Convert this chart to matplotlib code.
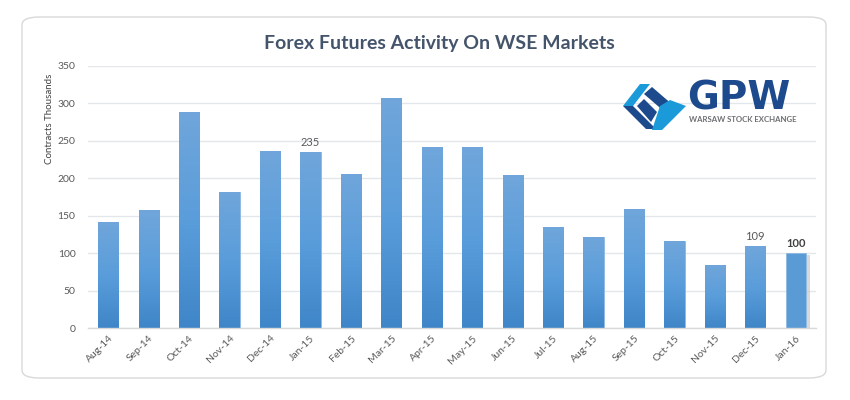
import matplotlib
matplotlib.use("Agg")
import matplotlib.pyplot as plt
import numpy as np
from matplotlib.patches import FancyBboxPatch, Polygon
from matplotlib.colors import LinearSegmentedColormap

months = ["Aug-14", "Sep-14", "Oct-14", "Nov-14", "Dec-14", "Jan-15", "Feb-15", "Mar-15",
          "Apr-15", "May-15", "Jun-15", "Jul-15", "Aug-15", "Sep-15", "Oct-15", "Nov-15",
          "Dec-15", "Jan-16"]
contracts = [142, 157, 288, 182, 236, 235, 206, 307, 242, 242, 204, 135, 122, 159, 116, 84, 109, 100]
labelled = {"Jan-15": "normal", "Dec-15": "normal", "Jan-16": "bold"}
yticks = [0, 50, 100, 150, 200, 250, 300, 350]

plt.rcParams['font.family'] = ['Lato', 'DejaVu Sans']

fig = plt.figure(figsize=(8.5, 4), dpi=100)
fig.patch.set_facecolor("white")

# rounded frame
frame = FancyBboxPatch((22 / 850, 1 - 378 / 400), (826 - 22) / 850, (378 - 17) / 400,
                       boxstyle="round,pad=0,rounding_size=0.02", transform=fig.transFigure,
                       facecolor="white", edgecolor="#D9D9D9", linewidth=1.0, zorder=-5)
fig.patches.append(frame)

ax = fig.add_axes([88 / 850, 1 - 328 / 400, (816 - 88) / 850, (328 - 66) / 400])
ax.set_facecolor("none")
ax.set_zorder(2)

x = np.arange(len(months))
bars = ax.bar(x, contracts, width=0.5, color="#5B9BD5", edgecolor="#8DB8E3", linewidth=0.6, zorder=2)

# vertical gradient inside each bar
grad = np.linspace(0, 1, 256).reshape(-1, 1)
cmap = LinearSegmentedColormap.from_list("barg", ["#3F86C8", "#5A9DDB", "#70A6DA"])
for b, m in zip(bars, months):
    if m == "Jan-16":
        b.set_facecolor("#5B9BD5")
        ax.bar(b.get_x() + b.get_width() + 0.02, b.get_height() - 2, width=0.07,
               bottom=0, color="#C8C8C8", alpha=0.7, zorder=1, align="edge")
        continue
    im = ax.imshow(grad, cmap=cmap, aspect="auto", origin="lower",
                   extent=[b.get_x(), b.get_x() + b.get_width(), 0, b.get_height()], zorder=2)
    im.set_clip_path(b)

for b, m, v in zip(bars, months, contracts):
    if m in labelled:
        w = labelled[m]
        ax.text(b.get_x() + b.get_width() / 2, v + 6, str(v), ha="center", va="bottom",
                fontsize=8, fontweight=w, color="#404040" if w == "bold" else "#595959", zorder=3)

ax.set_xlim(-0.5, len(months) - 0.5)
ax.set_ylim(0, 350)
ax.set_yticks(yticks)
ax.set_yticklabels([str(t) for t in yticks])
ax.set_xticks(x)
ax.set_xticklabels(months, rotation=45, ha="right", rotation_mode="anchor")
ax.tick_params(axis="both", length=0, labelsize=7.5, colors="#595959")
ax.tick_params(axis="y", pad=9)
ax.tick_params(axis="x", pad=4)
ax.grid(axis="y", color="#E3E6EA", linewidth=1.0, zorder=0)
ax.set_axisbelow(True)
for s in ["top", "right", "left"]:
    ax.spines[s].set_visible(False)
ax.spines["bottom"].set_color("#D9D9D9")
ax.spines["bottom"].set_linewidth(1.0)
ax.set_ylabel("Contracts Thousands", fontsize=7, color="#404040")
ax.yaxis.set_label_coords(-0.047, 0.80)

fig.text(439 / 850, 1 - 44 / 400, "Forex Futures Activity On WSE Markets", ha="center", va="center",
         fontsize=14, fontweight="bold", color="#44546A")

# GPW logo
def px(pts):
    return [(a / 850, 1 - b / 400) for a, b in pts]

dark = "#1C4A8C"
light = "#1A9AD9"
logo = [
    (px([(640, 84), (650, 84), (633, 106), (623, 106)]), light),
    (px([(623, 106), (633, 106), (656, 129), (646, 129)]), dark),
    (px([(644, 94), (652, 87), (674, 106), (666, 113)]), dark),
    (px([(637, 106), (644, 99), (657, 112), (651, 122)]), dark),
    (px([(660, 106), (670, 100), (686, 106), (662, 130), (652, 130)]), light),
]
for pts, c in logo:
    fig.patches.append(Polygon(pts, closed=True, transform=fig.transFigure, facecolor=c,
                               edgecolor="none", zorder=5))
fig.text(687 / 850, 1 - 98 / 400, "GPW", ha="left", va="center", fontsize=28, fontweight="bold",
         color=dark, family=["DejaVu Sans"], zorder=5)
fig.text(689 / 850, 1 - 120 / 400, "WARSAW STOCK EXCHANGE", ha="left", va="center", fontsize=5.6,
         fontweight="bold", color="#6D6E71", zorder=5)

fig.savefig("out.png", dpi=100, facecolor="white")
